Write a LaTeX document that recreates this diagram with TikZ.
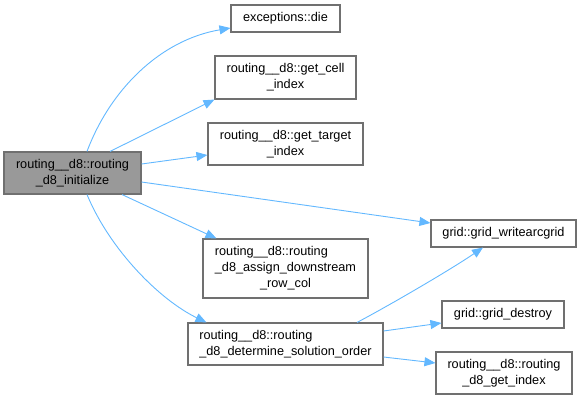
\documentclass[tikz,border=0pt]{standalone}
\usepackage{fontspec}
\setmainfont{Liberation Sans}
\usetikzlibrary{arrows.meta}
\definecolor{edgec}{HTML}{63B8FF}
\definecolor{bordc}{HTML}{707070}
\definecolor{mainfill}{HTML}{999999}
\newcommand\twol[2]{\begin{tabular}{@{}l@{}}#1\\\multicolumn{1}{@{}c@{}}{#2}\end{tabular}}
\begin{document}
\begin{tikzpicture}[x=1pt,y=-1pt,
  box/.style={draw=bordc,line width=1.1pt,fill=white,inner sep=0pt,
    font=\fontsize{12.7}{16}\selectfont,
    minimum width=#1},
  mainbox/.style={box=137pt,fill=mainfill,minimum height=42pt},
  edge/.style={draw=edgec,line width=0.9pt,-{Triangle[length=11pt,width=9pt]}}]
\useasboundingbox (0,0) rectangle (582,400);
\renewcommand\arraystretch{1}
\node[mainbox] (main) at (72.5,173) {\twol{routing\_\_d8::routing}{\_d8\_initialize}};
\node[box=109pt,minimum height=27pt] (die) at (285.5,18.5) {exceptions::die};
\node[box=141pt,minimum height=43pt] (cell) at (285.5,77.5) {\twol{routing\_\_d8::get\_cell}{\_index}};
\node[box=155pt,minimum height=42pt] (target) at (285.5,144) {\twol{routing\_\_d8::get\_target}{\_index}};
\node[box=165pt,minimum height=59pt] (assign) at (285.5,268.5) {\twol{routing\_\_d8::routing\\\_d8\_assign\_downstream}{\_row\_col}};
\node[box=195pt,minimum height=42pt] (determine) at (285.5,344) {\twol{routing\_\_d8::routing}{\_d8\_determine\_solution\_order}};
\node[box=145pt,minimum height=27pt] (write) at (503.5,233.5) {grid::grid\_writearcgrid};
\node[box=122pt,minimum height=27pt] (destroy) at (503,314.5) {grid::grid\_destroy};
\node[box=136pt,minimum height=42pt] (getindex) at (504,373) {\twol{routing\_\_d8::routing}{\_d8\_get\_index}};

\draw[edge] ([xshift=14.5pt]main.north) .. controls (110,90) and (160,40) .. ([yshift=-9.5pt]die.west);
\draw[edge] ([xshift=37.5pt]main.north) -- (cell.south west);
\draw[edge] ([yshift=9pt]main.east) -- ([yshift=-11pt]target.west);
\draw[edge] ([yshift=-9pt]main.east) -- ([yshift=10.5pt]write.west);
\draw[edge] ([xshift=49.5pt]main.south) -- ([xshift=14pt]assign.north west);
\draw[edge] ([xshift=14.5pt]main.south) .. controls (110,250) and (160,300) .. ([xshift=19pt]determine.north west);
\draw[edge] ([xshift=71.5pt]determine.north) .. controls (390,305) and (450,270) .. ([xshift=-20.5pt]write.south);
\draw[edge] ([yshift=13pt]determine.east) -- ([yshift=-8.5pt]destroy.west);
\draw[edge] ([yshift=-13pt]determine.east) -- ([yshift=10pt]getindex.west);
\end{tikzpicture}
\end{document}
